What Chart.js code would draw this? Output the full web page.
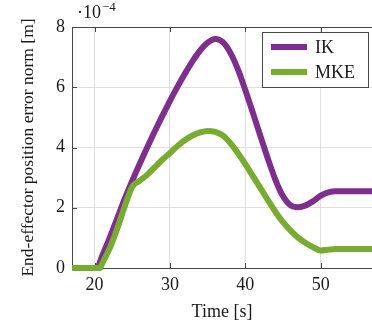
<!DOCTYPE html>
<html>
<head>
<meta charset="utf-8">
<script src="https://cdn.jsdelivr.net/npm/chart.js@4"></script>
<style>
  html, body { margin: 0; padding: 0; background: #fff; }
  canvas { display: block; }
</style>
</head>
<body>
<canvas id="myChart" width="372" height="325"></canvas>
<script>
'use strict';

/* DATA (error in units of 1e-4 m) */

const timeIK = [17, 20.3, 21, 22, 23, 24, 25, 26, 27, 28, 29, 30, 31, 32, 33, 34, 35, 36, 37, 38, 39, 40, 41, 42, 43, 44, 45, 46, 47, 48, 49, 50, 51, 52, 57];
const ikError = [0, 0, 0.4, 1.0, 1.65, 2.3, 2.9, 3.47, 4.02, 4.55, 5.06, 5.55, 6.02, 6.46, 6.87, 7.22, 7.48, 7.6, 7.5, 7.15, 6.6, 5.9, 5.15, 4.38, 3.62, 2.92, 2.38, 2.08, 2.02, 2.08, 2.22, 2.4, 2.51, 2.55, 2.55];

const timeMKE = [17, 20.7, 21, 22, 23, 24, 25, 26, 27, 28, 29, 30, 31, 32, 33, 34, 35, 36, 37, 38, 39, 40, 41, 42, 43, 44, 45, 46, 47, 48, 49, 50, 51, 52, 57];
const mkeError = [0, 0, 0.15, 0.65, 1.3, 2.05, 2.7, 2.9, 3.1, 3.35, 3.6, 3.82, 4.05, 4.25, 4.4, 4.5, 4.55, 4.52, 4.4, 4.15, 3.82, 3.45, 3.05, 2.65, 2.25, 1.86, 1.52, 1.24, 1.01, 0.83, 0.69, 0.58, 0.61, 0.63, 0.63];

const xTicks = [20, 30, 40, 50];
const yTicks = [0, 2, 4, 6, 8];

const FONT = '"Liberation Serif", "Times New Roman", serif';
const AXIS = '#474747';

function toPoints(xs, ys) {
  return xs.map(function(x, i) { return { x: x, y: ys[i] }; });
}

/* little helpers drawn on top: inner ticks, exponent, legend */

const innerTicks = {
  id: 'innerTicks',
  beforeDatasetsDraw(chart) {
    const c = chart.ctx, a = chart.chartArea;
    const xs = chart.scales.x, ys = chart.scales.y;
    c.save();
    c.strokeStyle = AXIS;
    c.lineWidth = 1;
    c.beginPath();
    yTicks.forEach(function(v) {
      const y = Math.round(ys.getPixelForValue(v)) + 0.5;
      c.moveTo(a.left, y); c.lineTo(a.left + 5, y);
    });
    xTicks.forEach(function(v) {
      const x = Math.round(xs.getPixelForValue(v)) + 0.5;
      c.moveTo(x, a.bottom); c.lineTo(x, a.bottom - 5);
      c.moveTo(x, a.top); c.lineTo(x, a.top + 5);
    });
    c.stroke();
    c.restore();
  }
};

const extras = {
  id: 'extras',
  afterDraw(chart) {
    const c = chart.ctx;
    c.save();
    c.fillStyle = '#1a1a1a';
    c.textBaseline = 'alphabetic';
    c.font = '18px ' + FONT;
    c.fillText('\u00b710', 77, 18);
    const w = c.measureText('\u00b710').width;
    c.font = '13px ' + FONT;
    c.fillText('\u22124', 77 + w + 1, 11);

    // legend box
    const bx = 262.5, by = 32.5, bw = 106, bh = 55;
    c.fillStyle = '#fff';
    c.fillRect(bx, by, bw, bh);
    c.strokeStyle = AXIS;
    c.lineWidth = 1;
    c.strokeRect(bx, by, bw, bh);
    chart.data.datasets.forEach(function(ds, i) {
      const y = 47 + i * 25;
      c.strokeStyle = ds.borderColor;
      c.lineWidth = 6;
      c.beginPath();
      c.moveTo(271, y); c.lineTo(307, y);
      c.stroke();
      c.fillStyle = '#1a1a1a';
      c.font = '18px ' + FONT;
      c.textBaseline = 'middle';
      c.fillText(ds.label, 315, y + 1);
    });
    c.restore();
  }
};

/* CHART */

const ctx = document.getElementById('myChart').getContext('2d');
const chart = new Chart(ctx, {
  type: 'line',
  data: {
    datasets: [{
      label: 'IK',
      data: toPoints(timeIK, ikError),
      borderColor: '#7E2F8E',
      borderWidth: 6,
      pointRadius: 0,
      cubicInterpolationMode: 'monotone',
      clip: 6,
      order: 1
    },
    {
      label: 'MKE',
      data: toPoints(timeMKE, mkeError),
      borderColor: '#77AC30',
      borderWidth: 6,
      pointRadius: 0,
      cubicInterpolationMode: 'monotone',
      clip: 6,
      order: 0
    }]
  },
  options: {
    responsive: false,
    devicePixelRatio: 1,
    animation: false,
    layout: { padding: { top: 27, right: 0, left: 0, bottom: 0 } },
    plugins: {
      legend: { display: false },
      tooltip: { enabled: false }
    },
    scales: {
      x: {
        type: 'linear',
        min: 17,
        max: 56.8,
        afterBuildTicks: function(s) { s.ticks = xTicks.map(function(v) { return { value: v }; }); },
        afterFit: function(s) { s.height = 57; },
        grid: { color: '#dedede', lineWidth: 1, drawTicks: false },
        border: { color: AXIS, width: 1 },
        ticks: { color: '#1a1a1a', font: { family: FONT, size: 18 }, padding: 6 },
        title: {
          display: true,
          text: 'Time [s]',
          color: '#1a1a1a',
          font: { family: FONT, size: 18 },
          padding: { top: 0, bottom: 2 }
        }
      },
      y: {
        min: 0,
        max: 8,
        afterBuildTicks: function(s) { s.ticks = yTicks.map(function(v) { return { value: v }; }); },
        afterFit: function(s) { s.width = 72; },
        grid: {
          color: function(c) { return c.tick && c.tick.value === 8 ? AXIS : '#dedede'; },
          lineWidth: 1,
          drawTicks: false
        },
        border: { color: AXIS, width: 1 },
        ticks: { color: '#1a1a1a', font: { family: FONT, size: 18 }, padding: 7 },
        title: {
          display: true,
          text: 'End-effector position error norm [m]',
          color: '#1a1a1a',
          font: { family: FONT, size: 17.5 },
          padding: { top: 18, bottom: 0 }
        }
      }
    }
  },
  plugins: [innerTicks, extras]
});
</script>
</body>
</html>
